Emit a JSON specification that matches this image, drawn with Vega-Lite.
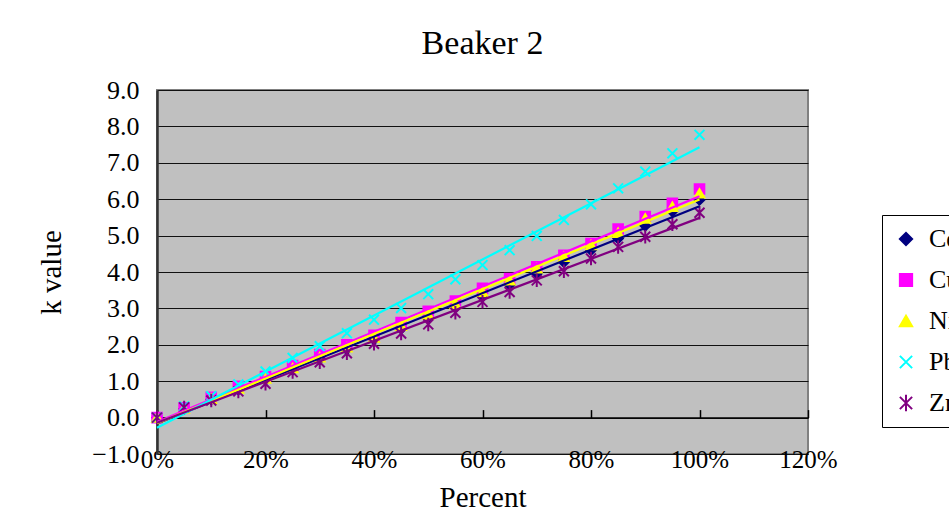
{
  "$schema": "https://vega.github.io/schema/vega-lite/v6.json",
  "autosize": "none",
  "padding": {"left": 157, "top": 90, "right": 141, "bottom": 68},
  "width": 651,
  "height": 364,
  "background": "white",
  "title": {"text": "Beaker 2", "fontSize": 34, "font": "Liberation Serif", "fontWeight": "normal", "color": "black", "offset": 16},
  "config": {
    "font": "Liberation Serif",
    "view": {"fill": "#C0C0C0", "stroke": "#808080", "strokeWidth": 2},
    "axis": {"labelFont": "Liberation Serif", "titleFont": "Liberation Serif", "labelColor": "black", "titleColor": "black", "labelFontSize": 25, "titleFontSize": 29, "titleFontWeight": "normal", "labelOverlap": false}
  },
  "data": {"values": [
    {"series":"Cd","pct":0,"k":0},{"series":"Cd","pct":0.05,"k":0.24},{"series":"Cd","pct":0.1,"k":0.5},{"series":"Cd","pct":0.15,"k":0.77},{"series":"Cd","pct":0.2,"k":1.03},{"series":"Cd","pct":0.25,"k":1.31},{"series":"Cd","pct":0.3,"k":1.6},{"series":"Cd","pct":0.35,"k":1.87},{"series":"Cd","pct":0.4,"k":2.14},{"series":"Cd","pct":0.45,"k":2.44},{"series":"Cd","pct":0.5,"k":2.74},{"series":"Cd","pct":0.55,"k":3.03},{"series":"Cd","pct":0.6,"k":3.33},{"series":"Cd","pct":0.65,"k":3.64},{"series":"Cd","pct":0.7,"k":3.95},{"series":"Cd","pct":0.75,"k":4.27},{"series":"Cd","pct":0.8,"k":4.6},{"series":"Cd","pct":0.85,"k":4.92},{"series":"Cd","pct":0.9,"k":5.27},{"series":"Cd","pct":0.95,"k":5.66},{"series":"Cd","pct":1.0,"k":5.98},
    {"series":"Cu","pct":0,"k":0},{"series":"Cu","pct":0.05,"k":0.27},{"series":"Cu","pct":0.1,"k":0.56},{"series":"Cu","pct":0.15,"k":0.86},{"series":"Cu","pct":0.2,"k":1.13},{"series":"Cu","pct":0.25,"k":1.43},{"series":"Cu","pct":0.3,"k":1.73},{"series":"Cu","pct":0.35,"k":2.0},{"series":"Cu","pct":0.4,"k":2.26},{"series":"Cu","pct":0.45,"k":2.61},{"series":"Cu","pct":0.5,"k":2.92},{"series":"Cu","pct":0.55,"k":3.2},{"series":"Cu","pct":0.6,"k":3.55},{"series":"Cu","pct":0.65,"k":3.82},{"series":"Cu","pct":0.7,"k":4.14},{"series":"Cu","pct":0.75,"k":4.46},{"series":"Cu","pct":0.8,"k":4.78},{"series":"Cu","pct":0.85,"k":5.18},{"series":"Cu","pct":0.9,"k":5.52},{"series":"Cu","pct":0.95,"k":5.89},{"series":"Cu","pct":1.0,"k":6.28},
    {"series":"Ni","pct":0,"k":0},{"series":"Ni","pct":0.05,"k":0.25},{"series":"Ni","pct":0.1,"k":0.52},{"series":"Ni","pct":0.15,"k":0.8},{"series":"Ni","pct":0.2,"k":1.07},{"series":"Ni","pct":0.25,"k":1.36},{"series":"Ni","pct":0.3,"k":1.66},{"series":"Ni","pct":0.35,"k":1.93},{"series":"Ni","pct":0.4,"k":2.2},{"series":"Ni","pct":0.45,"k":2.52},{"series":"Ni","pct":0.5,"k":2.83},{"series":"Ni","pct":0.55,"k":3.12},{"series":"Ni","pct":0.6,"k":3.45},{"series":"Ni","pct":0.65,"k":3.77},{"series":"Ni","pct":0.7,"k":4.1},{"series":"Ni","pct":0.75,"k":4.42},{"series":"Ni","pct":0.8,"k":4.74},{"series":"Ni","pct":0.85,"k":5.08},{"series":"Ni","pct":0.9,"k":5.47},{"series":"Ni","pct":0.95,"k":5.79},{"series":"Ni","pct":1.0,"k":6.16},
    {"series":"Pb","pct":0,"k":0},{"series":"Pb","pct":0.05,"k":0.31},{"series":"Pb","pct":0.1,"k":0.59},{"series":"Pb","pct":0.15,"k":0.91},{"series":"Pb","pct":0.2,"k":1.27},{"series":"Pb","pct":0.25,"k":1.64},{"series":"Pb","pct":0.3,"k":1.96},{"series":"Pb","pct":0.35,"k":2.32},{"series":"Pb","pct":0.4,"k":2.69},{"series":"Pb","pct":0.45,"k":3.01},{"series":"Pb","pct":0.5,"k":3.39},{"series":"Pb","pct":0.55,"k":3.8},{"series":"Pb","pct":0.6,"k":4.19},{"series":"Pb","pct":0.65,"k":4.6},{"series":"Pb","pct":0.7,"k":4.99},{"series":"Pb","pct":0.75,"k":5.43},{"series":"Pb","pct":0.8,"k":5.86},{"series":"Pb","pct":0.85,"k":6.3},{"series":"Pb","pct":0.9,"k":6.76},{"series":"Pb","pct":0.95,"k":7.26},{"series":"Pb","pct":1.0,"k":7.77},
    {"series":"Zn","pct":0,"k":0},{"series":"Zn","pct":0.05,"k":0.28},{"series":"Zn","pct":0.1,"k":0.47},{"series":"Zn","pct":0.15,"k":0.72},{"series":"Zn","pct":0.2,"k":0.93},{"series":"Zn","pct":0.25,"k":1.25},{"series":"Zn","pct":0.3,"k":1.52},{"series":"Zn","pct":0.35,"k":1.77},{"series":"Zn","pct":0.4,"k":2.03},{"series":"Zn","pct":0.45,"k":2.31},{"series":"Zn","pct":0.5,"k":2.56},{"series":"Zn","pct":0.55,"k":2.88},{"series":"Zn","pct":0.6,"k":3.18},{"series":"Zn","pct":0.65,"k":3.45},{"series":"Zn","pct":0.7,"k":3.77},{"series":"Zn","pct":0.75,"k":4.02},{"series":"Zn","pct":0.8,"k":4.37},{"series":"Zn","pct":0.85,"k":4.69},{"series":"Zn","pct":0.9,"k":4.97},{"series":"Zn","pct":0.95,"k":5.31},{"series":"Zn","pct":1.0,"k":5.63}
  ]},
  "encoding": {
    "y": {"field": "k", "type": "quantitative", "scale": {"domain": [-1, 9], "nice": false, "zero": false},
      "axis": {"values": [-1, 0, 1, 2, 3, 4, 5, 6, 7, 8, 9], "tickCount": 11, "format": ".1f", "grid": true, "gridColor": "#111111", "gridWidth": 1.2, "gridOpacity": 1, "domainColor": "#333333", "domainWidth": 2.5, "ticks": false, "labelPadding": 18, "labelFontSize": 26, "labelOverlap": false, "labelBound": false, "labelFlush": false, "title": "k value", "titlePadding": 25}}
  },
  "layer": [
    {
      "mark": {"type": "point", "opacity": 1, "strokeWidth": 2},
      "encoding": {
        "x": {"field": "pct", "type": "quantitative", "scale": {"domain": [0, 1.2]},
          "axis": {"orient": "bottom", "values": [0, 0.2, 0.4, 0.6, 0.8, 1.0, 1.2], "format": ".0%", "domain": false, "ticks": false, "grid": false, "labelBaseline": "middle", "labelPadding": 5, "labelFlush": false, "labelOverlap": false, "title": "Percent", "titlePadding": 11}},
        "size": {"field": "series", "type": "nominal", "legend": null,
          "scale": {"domain": ["Cd", "Cu", "Ni", "Pb", "Zn"], "range": [90, 100, 140, 240, 220]}},
        "shape": {"field": "series", "type": "nominal",
          "scale": {"domain": ["Cd", "Cu", "Ni", "Pb", "Zn"], "range": ["diamond", "square", "triangle-up", "M-1,-1L1,1M-1,1L1,-1", "M-1,-1L1,1M-1,1L1,-1M0,-1.35L0,1.35"]}},
        "fill": {"field": "series", "type": "nominal",
          "scale": {"domain": ["Cd", "Cu", "Ni", "Pb", "Zn"], "range": ["#000080", "#FF00FF", "#FFFF00", "transparent", "transparent"]}},
        "stroke": {"field": "series", "type": "nominal",
          "scale": {"domain": ["Cd", "Cu", "Ni", "Pb", "Zn"], "range": ["#000080", "#FF00FF", "#FFFF00", "#00FFFF", "#800080"]},
          "legend": {"title": null, "orient": "none", "legendX": 725, "legendY": 125, "fillColor": "white", "strokeColor": "black", "padding": 11, "rowPadding": 15, "labelFontSize": 26, "labelFont": "Liberation Serif", "labelColor": "black", "symbolSize": 150, "symbolStrokeWidth": 2, "labelOffset": 10, "symbolOpacity": 1}}
      }
    },
    {
      "transform": [{"regression": "k", "on": "pct", "groupby": ["series"], "method": "linear", "extent": [0, 1]}],
      "mark": {"type": "line", "strokeWidth": 2.2},
      "encoding": {
        "x": {"field": "pct", "type": "quantitative", "scale": {"domain": [0, 1.2]},
          "axis": {"orient": "top", "offset": -327.6, "values": [0, 0.2, 0.4, 0.6, 0.8, 1.0, 1.2], "labels": false, "grid": false, "domain": true, "domainColor": "black", "domainWidth": 1.5, "ticks": true, "tickColor": "black", "tickWidth": 1.5, "tickSize": 8, "title": null}},
        "color": {"field": "series", "type": "nominal",
          "scale": {"domain": ["Cd", "Cu", "Ni", "Pb", "Zn"], "range": ["#000080", "#FF00FF", "#FFFF00", "#00FFFF", "#800080"]}, "legend": null}
      }
    }
  ],
  "resolve": {"axis": {"x": "independent"}, "scale": {"color": "independent", "size": "independent"}}
}
